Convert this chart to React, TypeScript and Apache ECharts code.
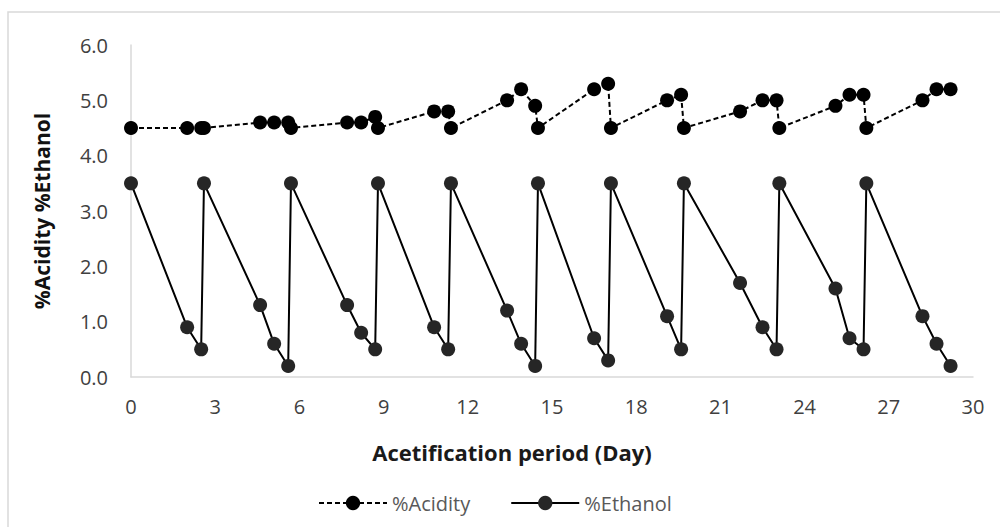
import React, { useEffect, useRef } from "react";
import * as echarts from "echarts";

const days = [0, 2.0, 2.5, 2.6, 4.6, 5.1, 5.6, 5.7, 7.7, 8.2, 8.7, 8.8, 10.8, 11.3, 11.4, 13.4, 13.9, 14.4, 14.5, 16.5, 17.0, 17.1, 19.1, 19.6, 19.7, 21.7, 22.5, 23.0, 23.1, 25.1, 25.6, 26.1, 26.2, 28.2, 28.7, 29.2];
const acidity = [4.5, 4.5, 4.5, 4.5, 4.6, 4.6, 4.6, 4.5, 4.6, 4.6, 4.7, 4.5, 4.8, 4.8, 4.5, 5.0, 5.2, 4.9, 4.5, 5.2, 5.3, 4.5, 5.0, 5.1, 4.5, 4.8, 5.0, 5.0, 4.5, 4.9, 5.1, 5.1, 4.5, 5.0, 5.2, 5.2];
const ethanol = [3.5, 0.9, 0.5, 3.5, 1.3, 0.6, 0.2, 3.5, 1.3, 0.8, 0.5, 3.5, 0.9, 0.5, 3.5, 1.2, 0.6, 0.2, 3.5, 0.7, 0.3, 3.5, 1.1, 0.5, 3.5, 1.7, 0.9, 0.5, 3.5, 1.6, 0.7, 0.5, 3.5, 1.1, 0.6, 0.2];
const seriesNames = ["%Acidity", "%Ethanol"];
const xTitle = "Acetification period (Day)";
const yTitle = "%Acidity %Ethanol";

const FONT = "'Open Sans', sans-serif";

export default function App() {
  const ref = useRef<HTMLDivElement>(null);
  useEffect(() => {
    if (!ref.current) return;
    const chart = echarts.init(ref.current, undefined, { renderer: "svg" });
    const pair = (ys: number[]) => days.map((d, i) => [d, ys[i]]);
    chart.setOption({
      animation: false,
      backgroundColor: "#ffffff",
      textStyle: { fontFamily: FONT },
      graphic: [
        {
          type: "rect",
          shape: { x: 8, y: 12, width: 1100, height: 600 },
          style: { fill: "none", stroke: "#d9d9d9", lineWidth: 1.5 },
          silent: true,
          z: -1,
        },
      ],
      grid: { left: 131, right: 27, top: 45, bottom: 150, containLabel: false },
      legend: {
        left: 313,
        top: 488,
        itemWidth: 68,
        itemHeight: 18,
        itemGap: 40,
        textStyle: { fontFamily: FONT, fontSize: 20, color: "#595959" },
        data: seriesNames,
      },
      xAxis: {
        type: "value",
        min: 0,
        max: 30,
        interval: 3,
        name: xTitle,
        nameLocation: "middle",
        nameGap: 64,
        nameTextStyle: { fontFamily: FONT, fontSize: 22, fontWeight: "bold", color: "#1a1a1a", padding: [0, 80, 0, 0] },
        axisLine: { show: true, lineStyle: { color: "#d9d9d9", width: 1.5 } },
        axisTick: { show: false },
        splitLine: { show: false },
        axisLabel: { fontFamily: FONT, fontSize: 20, color: "#404040", margin: 19 },
      },
      yAxis: {
        type: "value",
        min: 0,
        max: 6,
        interval: 1,
        name: yTitle,
        nameLocation: "middle",
        nameRotate: 90,
        nameGap: 79,
        nameTextStyle: { fontFamily: FONT, fontSize: 21, fontWeight: "bold", color: "#111111" },
        axisLine: { show: true, lineStyle: { color: "#d9d9d9", width: 1.5 } },
        axisTick: { show: false },
        splitLine: { show: false },
        axisLabel: {
          fontFamily: FONT,
          fontSize: 20,
          color: "#404040",
          margin: 23,
          formatter: (v: number) => v.toFixed(1),
        },
      },
      series: [
        {
          name: seriesNames[0],
          type: "line",
          data: pair(acidity),
          symbol: "circle",
          symbolSize: 14,
          itemStyle: { color: "#000000" },
          lineStyle: { color: "#000000", width: 2, type: [5, 3] },
          z: 3,
        },
        {
          name: seriesNames[1],
          type: "line",
          data: pair(ethanol),
          symbol: "circle",
          symbolSize: 14,
          itemStyle: { color: "#262626" },
          lineStyle: { color: "#000000", width: 2 },
          z: 2,
        },
      ],
    });
    return () => chart.dispose();
  }, []);
  return (
    <div
      ref={ref}
      style={{ position: "absolute", left: 0, top: 0, width: 1000, height: 527 }}
    />
  );
}
